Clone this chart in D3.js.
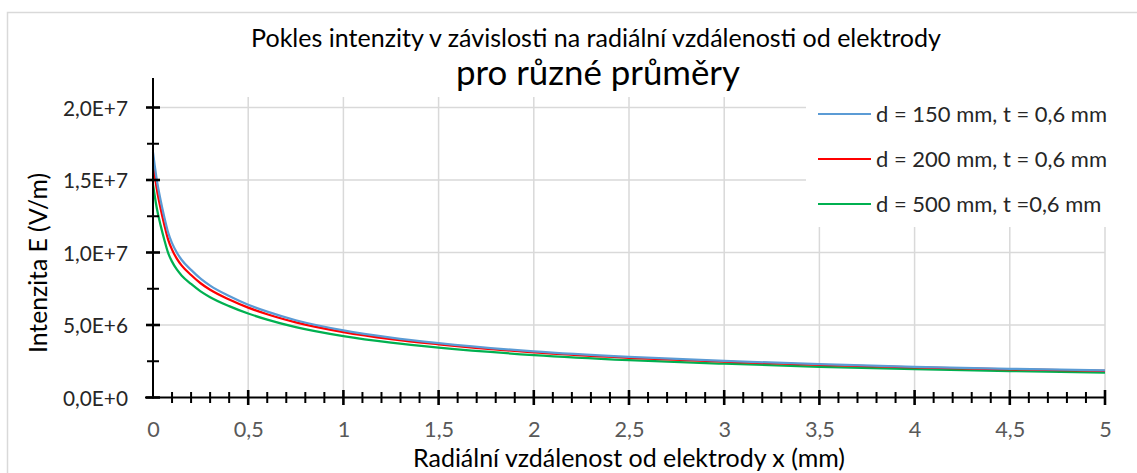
<!DOCTYPE html>
<html>
<head>
<meta charset="utf-8">
<script src="https://cdn.jsdelivr.net/npm/d3@7/dist/d3.min.js"></script>
<style>
  html, body { margin: 0; padding: 0; background: #fff; }
  svg { display: block; }
  text { font-family: Lato, "Open Sans", sans-serif; }
</style>
</head>
<body>
<svg id="chart" width="1137" height="473"></svg>
<script>
// ---- data ----
const xValues = [0, 0.01, 0.02, 0.04, 0.06, 0.08, 0.1, 0.125, 0.15, 0.2, 0.25, 0.3, 0.4, 0.5, 0.6, 0.75, 1, 1.25, 1.5, 2, 2.5, 3, 3.5, 4, 4.5, 5];
const seriesD150 = [1.69e7, 1.59e7, 1.50e7, 1.36e7, 1.24e7, 1.135e7, 1.065e7, 1.0e7, 9.5e6, 8.8e6, 8.2e6, 7.72e6, 7.0e6, 6.4e6, 5.92e6, 5.33e6, 4.63e6, 4.13e6, 3.75e6, 3.18e6, 2.8e6, 2.52e6, 2.3e6, 2.12e6, 1.98e6, 1.87e6];
const seriesD200 = [1.62e7, 1.525e7, 1.437e7, 1.303e7, 1.188e7, 1.087e7, 1.02e7, 9.58e6, 9.11e6, 8.45e6, 7.88e6, 7.43e6, 6.76e6, 6.2e6, 5.74e6, 5.18e6, 4.51e6, 4.03e6, 3.67e6, 3.11e6, 2.74e6, 2.47e6, 2.25e6, 2.08e6, 1.94e6, 1.83e6];
const seriesD500 = [1.47e7, 1.383e7, 1.305e7, 1.187e7, 1.085e7, 9.95e6, 9.37e6, 8.83e6, 8.42e6, 7.83e6, 7.32e6, 6.92e6, 6.3e6, 5.79e6, 5.37e6, 4.85e6, 4.23e6, 3.78e6, 3.44e6, 2.93e6, 2.58e6, 2.33e6, 2.12e6, 1.95e6, 1.82e6, 1.71e6];
const seriesNames = ["d = 150 mm, t = 0,6 mm", "d = 200 mm, t = 0,6 mm", "d = 500 mm, t =0,6 mm"];
const xTickValues = [0, 0.5, 1, 1.5, 2, 2.5, 3, 3.5, 4, 4.5, 5];
const yTickValues = [0, 5e6, 1e7, 1.5e7, 2e7];
const titleText = "Pokles intenzity v závislosti na radiální vzdálenosti od elektrody";
const subtitleText = "pro různé průměry";
const xAxisTitle = "Radiální vzdálenost od elektrody x (mm)";
const yAxisTitle = "Intenzita E (V/m)";

// ---- layout / style ----
const colors = ["#5b9bd5", "#ff0000", "#00b050"];
const svg = d3.select("#chart");
const x = d3.scaleLinear().domain([0, 5]).range([153, 1105]);
const y = d3.scaleLinear().domain([0, 2e7]).range([397.5, 107.5]);
const plotTop = 97;

function fitWidth(sel, target) {
  const w = sel.node().getComputedTextLength();
  const fs = parseFloat(sel.attr("font-size"));
  const nfs = fs * target / w;
  sel.attr("font-size", nfs.toFixed(2));
  return nfs;
}

// chart border
svg.append("rect").attr("x", 7.5).attr("y", 12.5).attr("width", 1140).attr("height", 470)
  .attr("fill", "#fff").attr("stroke", "#d9d9d9").attr("stroke-width", 1.5);

// gridlines
const grid = svg.append("g").attr("stroke", "#d9d9d9").attr("stroke-width", 1.5);
grid.selectAll("line.h").data(yTickValues.filter(d => d > 0)).join("line")
  .attr("class", "h")
  .attr("x1", x(0)).attr("x2", x(5)).attr("y1", d => y(d)).attr("y2", d => y(d));
grid.selectAll("line.v").data(xTickValues.filter(d => d > 0)).join("line")
  .attr("class", "v")
  .attr("y1", plotTop).attr("y2", y(0)).attr("x1", d => x(d)).attr("x2", d => x(d));

// legend background (covers gridlines)
svg.append("rect").attr("x", 806).attr("y", 88).attr("width", 320).attr("height", 139).attr("fill", "#fff");

// series
const line = d3.line().x(d => x(d[0])).y(d => y(d[1])).curve(d3.curveMonotoneX);
const allSeries = [seriesD150, seriesD200, seriesD500];
[2, 1, 0].forEach(i => {
  svg.append("path")
    .datum(xValues.map((xv, j) => [xv, allSeries[i][j]]))
    .attr("fill", "none").attr("stroke", colors[i]).attr("stroke-width", 2.25)
    .attr("stroke-linejoin", "round").attr("d", line);
});

// x axis
const xAxisG = svg.append("g").attr("transform", `translate(0,${y(0)})`)
  .call(d3.axisBottom(x).tickValues(xTickValues).tickSize(0).tickPadding(0)
    .tickFormat(d => String(d).replace(".", ",")));
xAxisG.select(".domain").remove();
xAxisG.attr("font-family", null).attr("font-size", null);
const xLabels = xAxisG.selectAll(".tick text").attr("y", 31.5).attr("dy", "0.36em")
  .attr("font-size", 18).attr("fill", "#595959");
{
  const t05 = xLabels.filter(d => d === 0.5);
  const fs = fitWidth(t05, 30);
  xLabels.attr("font-size", fs.toFixed(2));
}
svg.append("line").attr("x1", x(0) - 8).attr("x2", x(5)).attr("y1", y(0)).attr("y2", y(0))
  .attr("stroke", "#000").attr("stroke-width", 2);
const xMinor = d3.range(1, 51).map(i => i / 10).filter(v => Math.abs(v * 2 - Math.round(v * 2)) > 1e-6);
svg.append("g").selectAll("line").data(xMinor).join("line")
  .attr("x1", d => x(d)).attr("x2", d => x(d)).attr("y1", y(0) - 5.5).attr("y2", y(0) + 5.5)
  .attr("stroke", "#000").attr("stroke-width", 2);
svg.append("g").selectAll("line").data(xTickValues.filter(d => d > 0)).join("line")
  .attr("x1", d => x(d)).attr("x2", d => x(d)).attr("y1", y(0) - 7.5).attr("y2", y(0) + 7.5)
  .attr("stroke", "#000").attr("stroke-width", 2.6);

// y axis
const yFmt = d => {
  if (d === 0) return "0,0E+0";
  const e = Math.floor(Math.log10(d));
  return (d / Math.pow(10, e)).toFixed(1).replace(".", ",") + "E+" + e;
};
const yAxisG = svg.append("g").attr("transform", `translate(${x(0)},0)`)
  .call(d3.axisLeft(y).tickValues(yTickValues).tickSize(0).tickPadding(0).tickFormat(yFmt));
yAxisG.select(".domain").remove();
yAxisG.attr("font-family", null).attr("font-size", null);
const yLabels = yAxisG.selectAll(".tick text").attr("x", -25).attr("dy", "0.36em")
  .attr("font-size", 18).attr("fill", "#262626");
{
  const top = yLabels.filter(d => d === 2e7);
  const fs = fitWidth(top, 65);
  yLabels.attr("font-size", fs.toFixed(2));
}
svg.append("line").attr("x1", x(0)).attr("x2", x(0)).attr("y1", 78).attr("y2", y(0) + 1)
  .attr("stroke", "#000").attr("stroke-width", 2);
const yMinor = [2.5e6, 7.5e6, 1.25e7, 1.75e7];
svg.append("g").selectAll("line").data(yMinor).join("line")
  .attr("x1", x(0) - 6).attr("x2", x(0) + 6).attr("y1", d => y(d)).attr("y2", d => y(d))
  .attr("stroke", "#000").attr("stroke-width", 2);
svg.append("g").selectAll("line").data(yTickValues).join("line")
  .attr("x1", x(0) - 7).attr("x2", x(0) + 7).attr("y1", d => y(d)).attr("y2", d => y(d))
  .attr("stroke", "#000").attr("stroke-width", 2.6);

// legend
const leg = svg.append("g");
let legFs = 17;
seriesNames.forEach((name, i) => {
  const ly = 114 + i * 45;
  leg.append("line").attr("x1", 818).attr("x2", 871).attr("y1", ly).attr("y2", ly)
    .attr("stroke", colors[i]).attr("stroke-width", 2);
  const t = leg.append("text").attr("x", 876).attr("y", ly).attr("dy", "0.36em")
    .attr("font-size", legFs).attr("fill", "#262626").text(name);
  if (i === 0) legFs = fitWidth(t, 231);
  else t.attr("font-size", legFs.toFixed(2));
});

// axis titles
const xt = svg.append("text").attr("x", 629).attr("y", 467).attr("text-anchor", "middle")
  .attr("font-size", 18).attr("fill", "#000").text(xAxisTitle);
const axisTitleFs = fitWidth(xt, 432);
const yt = svg.append("text").attr("transform", "translate(47,263) rotate(-90)").attr("text-anchor", "middle")
  .attr("font-size", 18).attr("fill", "#000").text(yAxisTitle);
fitWidth(yt, 180);

// chart title (two lines, centred on the same axis)
const title = svg.append("text").attr("x", 596).attr("y", 47).attr("text-anchor", "middle")
  .attr("font-size", axisTitleFs.toFixed(2)).attr("fill", "#000").text(titleText);
fitWidth(title, 690);
const sub = svg.append("text").attr("x", 598).attr("y", 85).attr("text-anchor", "middle")
  .attr("font-size", (axisTitleFs * 1.4).toFixed(2)).attr("fill", "#000").text(subtitleText);
fitWidth(sub, 284);
</script>
</body>
</html>
